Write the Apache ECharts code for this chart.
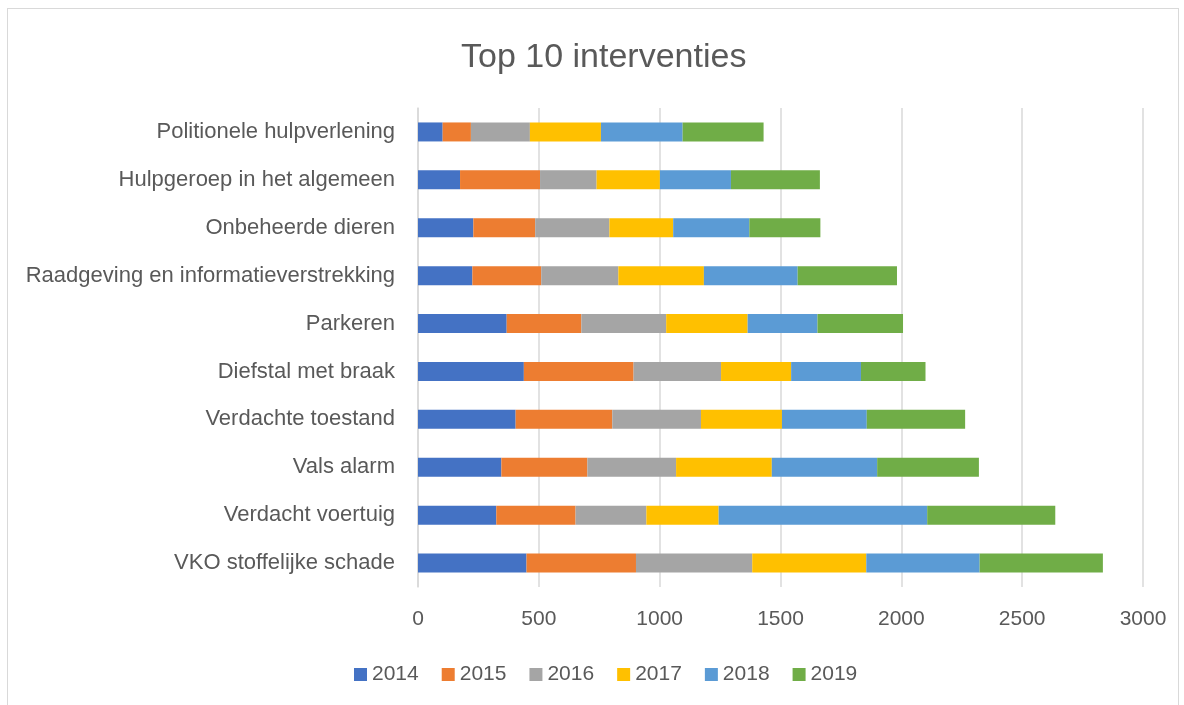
<!DOCTYPE html>
<html>
<head>
<meta charset="utf-8">
<script src="https://cdn.jsdelivr.net/npm/echarts@6/dist/echarts.min.js"></script>
<style>
  html, body { margin: 0; padding: 0; background: #fff; }
  #frame { position: absolute; left: 7px; top: 8px; width: 1172px; height: 705px; border: 1px solid #d9d9d9; box-sizing: border-box; }
  #chart { position: absolute; left: 0; top: 0; width: 1184px; height: 705px; }
</style>
</head>
<body>
<div id="frame"></div>
<div id="chart"></div>
<script>
// categories, top to bottom
const categories = [
  'Politionele hulpverlening',
  'Hulpgeroep in het algemeen',
  'Onbeheerde dieren',
  'Raadgeving en informatieverstrekking',
  'Parkeren',
  'Diefstal met braak',
  'Verdachte toestand',
  'Vals alarm',
  'Verdacht voertuig',
  'VKO stoffelijke schade'
];
const years = ['2014', '2015', '2016', '2017', '2018', '2019'];
const s2014 = [102, 174, 229, 225, 367, 438, 404, 345, 324, 449];
const s2015 = [117, 331, 256, 285, 309, 454, 400, 356, 328, 453];
const s2016 = [244, 234, 307, 319, 351, 362, 367, 367, 293, 481];
const s2017 = [294, 262, 264, 354, 337, 290, 335, 396, 299, 472];
const s2018 = [338, 294, 315, 388, 289, 289, 351, 436, 863, 469];
const s2019 = [335, 368, 294, 411, 354, 267, 407, 421, 530, 510];
const colors = ['#4472C4', '#ED7D31', '#A5A5A5', '#FFC000', '#5B9BD5', '#70AD47'];

const font = 'Liberation Sans';
const allSeries = [s2014, s2015, s2016, s2017, s2018, s2019];

const myChart = echarts.init(document.getElementById('chart'));
const option = {
  animation: false,
  color: colors,
  title: {
    text: 'Top 10 interventies',
    left: 456,
    top: 36,
    textStyle: { fontFamily: font, fontSize: 34, fontWeight: 'normal', color: '#595959' }
  },
  legend: {
    data: years,
    left: 349,
    top: 659,
    itemWidth: 13,
    itemHeight: 13,
    itemGap: 23,
    icon: 'rect',
    textStyle: { fontFamily: font, fontSize: 21, color: '#595959' }
  },
  grid: { left: 418, right: 41, top: 108, bottom: 118, containLabel: false },
  xAxis: {
    type: 'value',
    min: 0,
    max: 3000,
    interval: 500,
    axisLine: { show: false },
    axisTick: { show: false },
    axisLabel: { margin: 22, fontFamily: font, fontSize: 21, color: '#595959', formatter: v => String(v) },
    splitLine: { lineStyle: { color: '#d9d9d9', width: 1.5 } }
  },
  yAxis: {
    type: 'category',
    data: categories,
    inverse: true,
    axisLine: { show: true, lineStyle: { color: '#d9d9d9', width: 1.5 } },
    axisTick: { show: false },
    axisLabel: { margin: 23, fontFamily: font, fontSize: 22, color: '#595959' }
  },
  series: years.map((y, i) => ({
    name: y,
    type: 'bar',
    stack: 'total',
    barWidth: 19,
    data: allSeries[i]
  }))
};
myChart.setOption(option);
</script>
</body>
</html>
